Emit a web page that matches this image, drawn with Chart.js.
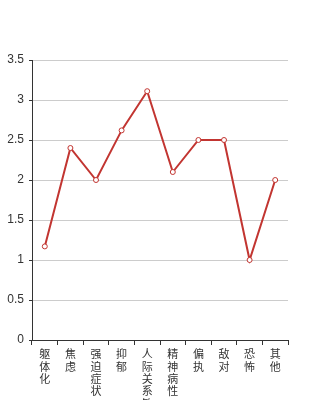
<!DOCTYPE html>
<html>
<head>
<meta charset="utf-8">
<script src="https://cdn.jsdelivr.net/npm/chart.js@4"></script>
<style>
  html, body { margin: 0; padding: 0; background: #fff; }
  #wrap { width: 320px; height: 400px; }
</style>
</head>
<body>
<div id="wrap"><canvas id="score-chart" width="320" height="400"></canvas></div>
<script>
const categories = ['躯体化', '焦虑', '强迫症状', '抑郁', '人际关系敏感', '精神病性', '偏执', '敌对', '恐怖', '其他'];
const scores = [1.17, 2.4, 2.0, 2.62, 3.11, 2.1, 2.5, 2.5, 1.0, 2.0];
const yTicks = [0, 0.5, 1, 1.5, 2, 2.5, 3, 3.5];

const ctx = document.getElementById('score-chart');

new Chart(ctx, {
    type: 'line',
    data: {
        // one character per line, like the stacked labels in the picture
        labels: categories.map(c => c.split('')),
        datasets: [{
            data: scores,
            borderColor: '#c23531',
            borderWidth: 2,
            backgroundColor: '#fff',
            pointBackgroundColor: '#fff',
            pointBorderColor: '#c23531',
            pointBorderWidth: 1,
            pointRadius: 2.5,
            tension: 0
        }]
    },
    options: {
        responsive: false,
        animation: false,
        layout: { padding: { top: 60, right: 32, left: 0, bottom: 0 } },
        plugins: { legend: { display: false }, tooltip: { enabled: false } },
        scales: {
            x: {
                offset: true,
                grid: { offset: true, drawOnChartArea: false, tickLength: 5, tickColor: '#333' },
                border: { color: '#333', width: 1 },
                ticks: {
                    autoSkip: false, maxRotation: 0, minRotation: 0, padding: 3,
                    color: '#333',
                    font: { family: '"Noto Sans CJK SC", sans-serif', size: 11, lineHeight: '12.3px' }
                },
                afterFit: s => { s.height = 60; }
            },
            y: {
                min: 0,
                max: 3.5,
                afterBuildTicks: s => { s.ticks = yTicks.map(v => ({ value: v })); },
                grid: { color: '#ccc', tickLength: 3, tickColor: '#333' },
                border: { color: '#333', width: 1 },
                ticks: {
                    padding: 5, color: '#333',
                    font: { family: 'sans-serif', size: 12 },
                    callback: v => String(v)
                },
                afterFit: s => { s.width = 32; }
            }
        }
    }
});
</script>
</body>
</html>
